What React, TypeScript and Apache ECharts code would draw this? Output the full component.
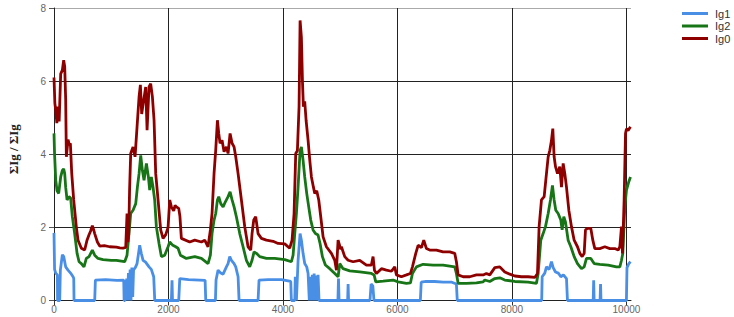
import React, { useEffect, useRef } from "react";
import * as echarts from "echarts";

const seriesNames = ["Ig1", "Ig2", "Ig0"];
const xTicks = [0, 2000, 4000, 6000, 8000, 10000];
const yTicks = [0, 2, 4, 6, 8];

const ig0: [number, number][] = [
  [0, 6.1], [15, 5.4], [30, 5.2], [50, 4.85], [70, 5.3], [90, 4.9], [117, 6.2], [146, 6.3], [169, 6.57], [187, 6.4],
  [204, 5.5], [216, 3.93], [245, 4.4], [270, 4.25], [286, 4.3], [309, 3.5], [344, 2.75], [391, 2.0], [420, 1.65],
  [478, 1.43], [536, 1.38], [577, 1.65], [612, 1.8], [640, 1.9], [670, 2.05], [690, 1.95], [711, 1.83], [758, 1.6],
  [799, 1.49], [880, 1.5], [973, 1.47], [1090, 1.46], [1150, 1.44], [1206, 1.43], [1253, 1.45], [1276, 2.38],
  [1290, 1.6], [1305, 1.8], [1320, 3.0], [1340, 4.02], [1381, 4.2], [1416, 3.93], [1451, 4.75], [1486, 5.57],
  [1509, 5.9], [1532, 5.1], [1567, 5.48], [1602, 5.84], [1626, 4.66], [1660, 5.84], [1689, 5.93], [1719, 5.57],
  [1748, 4.93], [1777, 3.47], [1818, 2.75], [1864, 1.93], [1905, 1.7], [1952, 1.8], [1993, 2.0], [2022, 2.75],
  [2051, 2.56], [2091, 2.45], [2115, 2.6], [2138, 2.56], [2179, 2.52], [2200, 2.3], [2225, 1.7], [2371, 1.6],
  [2459, 1.65], [2575, 1.6], [2633, 1.65], [2691, 1.47], [2732, 1.93], [2761, 2.38], [2796, 3.47], [2825, 4.11],
  [2855, 4.93], [2878, 4.57], [2901, 4.3], [2936, 4.38], [2971, 4.07], [3012, 4.2], [3041, 4.02], [3076, 4.57],
  [3111, 4.3], [3146, 4.2], [3175, 3.93], [3216, 3.47], [3274, 2.75], [3332, 2.02], [3390, 1.47], [3437, 1.38],
  [3460, 1.83], [3489, 2.2], [3524, 2.29], [3565, 1.83], [3623, 1.7], [3711, 1.65], [3827, 1.62], [3915, 1.56],
  [4031, 1.55], [4118, 1.43], [4159, 1.65], [4194, 2.38], [4223, 4.02], [4252, 4.1], [4281, 5.3], [4299, 7.66],
  [4322, 7.2], [4340, 6.02], [4357, 5.3], [4380, 5.45], [4404, 4.93], [4439, 4.38], [4468, 3.84], [4497, 3.38],
  [4532, 3.1], [4555, 2.93], [4590, 3.0], [4625, 2.75], [4660, 2.29], [4701, 1.74], [4759, 1.47], [4846, 1.29],
  [4905, 1.1], [4934, 0.83], [4963, 1.65], [5009, 1.4], [5021, 1.47], [5079, 1.2], [5138, 1.1], [5225, 1.06],
  [5341, 1.1], [5458, 0.97], [5545, 0.97], [5574, 1.2], [5598, 0.83], [5633, 0.74], [5720, 0.87], [5807, 0.83],
  [5895, 0.8], [5953, 0.92], [5982, 0.7], [6069, 0.65], [6157, 0.7], [6227, 0.74], [6262, 0.92], [6320, 1.29],
  [6361, 1.51], [6419, 1.45], [6460, 1.65], [6506, 1.42], [6564, 1.38], [6681, 1.38], [6797, 1.33], [6914, 1.33],
  [7001, 1.29], [7030, 1.06], [7060, 0.7], [7147, 0.65], [7263, 0.65], [7380, 0.7], [7496, 0.7], [7554, 0.74],
  [7613, 0.7], [7701, 0.9], [7788, 0.92], [7875, 0.78], [7963, 0.72], [8050, 0.67], [8167, 0.65], [8283, 0.65],
  [8400, 0.63], [8446, 0.74], [8475, 2.02], [8516, 2.75], [8563, 2.84], [8603, 3.47], [8633, 3.93], [8662, 4.11],
  [8691, 4.38], [8714, 4.7], [8737, 3.93], [8761, 3.66], [8796, 3.47], [8836, 3.66], [8866, 3.1], [8895, 3.75],
  [8924, 3.47], [8953, 3.1], [8994, 2.47], [9040, 2.02], [9087, 1.65], [9145, 1.47], [9186, 1.29], [9227, 1.2],
  [9262, 1.29], [9285, 1.93], [9320, 1.97], [9378, 1.97], [9413, 1.65], [9448, 1.42], [9535, 1.42], [9623, 1.47],
  [9710, 1.42], [9797, 1.42], [9856, 1.38], [9885, 1.47], [9914, 2.02], [9931, 1.29], [9960, 2.75], [9984, 4.57],
  [10001, 4.7], [10030, 4.65], [10071, 4.75],
];

const ig2: [number, number][] = [
  [0, 4.57], [10, 4.0], [30, 3.3], [53, 3.0], [82, 2.93], [117, 3.38], [146, 3.56], [169, 3.6], [187, 3.47],
  [204, 3.1], [228, 2.75], [262, 2.84], [291, 2.8], [320, 2.3], [361, 1.83], [403, 1.29], [438, 1.06], [478, 1.01],
  [524, 0.92], [565, 1.15], [612, 1.2], [670, 1.38], [711, 1.24], [769, 1.15], [857, 1.12], [1000, 1.1], [1090, 1.1],
  [1235, 1.06], [1276, 1.24], [1305, 1.74], [1340, 2.38], [1381, 2.47], [1428, 2.65], [1457, 3.1], [1486, 3.47],
  [1515, 3.97], [1544, 3.56], [1573, 3.29], [1614, 3.75], [1649, 3.38], [1672, 3.02], [1701, 3.38], [1730, 3.1],
  [1759, 2.75], [1788, 2.02], [1835, 1.56], [1876, 1.2], [1934, 1.24], [1993, 1.47], [2022, 1.6], [2068, 1.52],
  [2126, 1.47], [2167, 1.43], [2208, 1.24], [2312, 1.15], [2459, 1.2], [2575, 1.15], [2691, 1.01], [2732, 1.24],
  [2761, 1.83], [2796, 2.2], [2825, 2.38], [2855, 2.75], [2878, 2.84], [2913, 2.65], [2954, 2.56], [2994, 2.7],
  [3041, 2.84], [3076, 2.97], [3111, 2.75], [3146, 2.56], [3186, 2.29], [3245, 1.83], [3303, 1.47], [3361, 1.1],
  [3419, 0.92], [3460, 1.1], [3495, 1.33], [3536, 1.29], [3594, 1.2], [3711, 1.15], [3856, 1.15], [4031, 1.12],
  [4147, 1.06], [4177, 1.24], [4206, 1.83], [4235, 2.38], [4264, 3.1], [4299, 4.11], [4322, 4.2], [4351, 3.84],
  [4380, 3.38], [4415, 2.93], [4450, 2.56], [4485, 2.2], [4526, 1.93], [4567, 1.83], [4613, 1.79], [4648, 1.56],
  [4689, 1.2], [4741, 0.97], [4817, 0.87], [4905, 0.74], [4963, 0.65], [4992, 1.01], [5050, 0.87], [5166, 0.81],
  [5341, 0.78], [5545, 0.74], [5592, 0.7], [5621, 0.51], [5749, 0.53], [5924, 0.56], [6011, 0.51], [6157, 0.47],
  [6227, 0.48], [6262, 0.74], [6331, 0.92], [6448, 0.99], [6623, 0.97], [6797, 0.97], [7001, 0.92], [7030, 0.74],
  [7060, 0.47], [7205, 0.47], [7380, 0.48], [7496, 0.51], [7526, 0.56], [7613, 0.52], [7701, 0.6], [7788, 0.62],
  [7875, 0.56], [8050, 0.52], [8283, 0.5], [8429, 0.47], [8458, 0.74], [8504, 1.65], [8545, 1.83], [8586, 2.02],
  [8633, 2.38], [8673, 2.75], [8708, 3.15], [8737, 2.75], [8766, 2.47], [8807, 2.38], [8854, 2.2], [8877, 1.93],
  [8906, 2.29], [8935, 2.15], [8982, 1.65], [9029, 1.47], [9087, 1.2], [9145, 1.01], [9215, 0.87], [9262, 0.92],
  [9302, 1.15], [9378, 1.15], [9436, 1.01], [9535, 0.99], [9681, 0.97], [9826, 0.92], [9885, 0.92], [9914, 1.1],
  [9937, 1.29], [9972, 2.56], [10001, 3.02], [10042, 3.25], [10071, 3.38],
];

const ig1: [number, number][] = [
  [0, 1.85], [10, 0.85], [30, 0.75], [59, 0.7], [62, 0], [100, 0], [111, 0.83], [146, 1.25], [170, 1.2], [204, 0.92],
  [245, 0.83], [290, 0.75], [333, 0.65], [345, 0.6], [350, 0], [711, 0], [723, 0.56], [900, 0.57], [1100, 0.55],
  [1218, 0.56], [1225, 0], [1240, 0], [1245, 0.56], [1255, 0], [1270, 0.6], [1285, 0], [1300, 0.75], [1315, 0],
  [1330, 0.85], [1345, 0], [1360, 0.9], [1375, 0.1], [1390, 0.84], [1420, 0.9], [1451, 1.01], [1497, 1.51],
  [1525, 1.29], [1556, 1.1], [1600, 1.05], [1660, 0.92], [1700, 0.85], [1742, 0.65], [1760, 0], [2051, 0],
  [2062, 0.55], [2070, 0], [2179, 0], [2197, 0.6], [2350, 0.57], [2546, 0.56], [2640, 0.55], [2651, 0], [2820, 0],
  [2831, 0.56], [2866, 0.83], [2913, 0.75], [2954, 0.72], [3012, 0.92], [3041, 1.01], [3070, 1.2], [3099, 1.1],
  [3146, 1.01], [3175, 0.92], [3216, 0.65], [3233, 0], [3565, 0], [3582, 0.56], [3740, 0.57], [3973, 0.57],
  [4136, 0.52], [4147, 0], [4206, 0], [4215, 0.65], [4235, 0], [4264, 1.1], [4299, 1.83], [4322, 1.65], [4351, 1.29],
  [4380, 1.01], [4415, 0.92], [4439, 0.74], [4460, 0], [4480, 0.65], [4497, 0], [4513, 0.7], [4526, 0], [4545, 0.74],
  [4560, 0], [4580, 0.68], [4600, 0], [4613, 0.7], [4630, 0], [4960, 0], [4970, 0.6], [4980, 0], [5130, 0],
  [5138, 0.45], [5146, 0], [5520, 0], [5540, 0.45], [5570, 0.4], [5590, 0], [6400, 0], [6415, 0.5], [6500, 0.52],
  [6650, 0.52], [6800, 0.5], [6950, 0.5], [7030, 0.45], [7045, 0], [8520, 0], [8528, 0.65], [8574, 0.75],
  [8603, 0.92], [8650, 0.85], [8691, 1.06], [8720, 0.9], [8761, 0.78], [8810, 0.75], [8854, 0.65], [8900, 0.7],
  [8953, 0.6], [8970, 0], [9420, 0], [9428, 0.55], [9436, 0], [9540, 0], [9548, 0.45], [9556, 0], [10000, 0],
  [10010, 0.9], [10040, 1.0], [10071, 1.06],
];

const colors = ["#4a8fe6", "#177517", "#8e0000"];

export default function App() {
  const ref = useRef<HTMLDivElement>(null);
  useEffect(() => {
    document.body.style.margin = "0";
    if (!ref.current) return;
    const chart = echarts.init(ref.current, undefined, { renderer: "svg" });
    const dataSets = [ig1, ig2, ig0];
    chart.setOption({
      animation: false,
      textStyle: { fontFamily: "Liberation Sans, Arial, sans-serif" },
      grid: { left: 54, right: 103, top: 8, bottom: 16.5, containLabel: false, outerBoundsMode: "none" },
      legend: {
        orient: "vertical",
        left: 677,
        top: 3,
        itemWidth: 26,
        itemHeight: 3,
        itemGap: 1.5,
        icon: "rect",
        data: seriesNames,
        textStyle: { fontSize: 11, color: "#333", padding: [0, 0, 0, 2] },
      },
      xAxis: {
        type: "value",
        min: xTicks[0],
        max: 10080,
        interval: xTicks[1] - xTicks[0],
        axisLine: { show: true, lineStyle: { color: "#222", width: 1 } },
        axisTick: { show: true, length: 5, lineStyle: { color: "#333" } },
        axisLabel: { color: "#666", fontSize: 10, margin: 4, showMaxLabel: false, formatter: (v: number) => String(v) },
        splitLine: { show: true, showMinLine: false, showMaxLine: false, lineStyle: { color: "#222", width: 1 } },
      },
      yAxis: {
        type: "value",
        min: yTicks[0],
        max: yTicks[yTicks.length - 1],
        interval: yTicks[1] - yTicks[0],
        name: "ΣIg / ΣIg",
        nameLocation: "middle",
        nameGap: 34,
        nameTextStyle: {
          fontFamily: "Liberation Serif, Times New Roman, serif",
          fontWeight: "bold",
          fontSize: 13,
          color: "#222",
          padding: [0, 0, 0, 10],
        },
        axisLine: { show: true, lineStyle: { color: "#222", width: 1 } },
        axisTick: { show: true, length: 5, lineStyle: { color: "#555" } },
        axisLabel: { color: "#666", fontSize: 10, margin: 8 },
        splitLine: { show: true, lineStyle: { color: ["#222", "#222", "#222", "#222", "#aaa"], width: 1 } },
      },
      series: seriesNames.map((name, i) => ({
        name,
        type: "line",
        data: dataSets[i],
        symbol: "none",
        clip: true,
        z: 3 + i,
        lineStyle: { color: colors[i], width: 2.8 },
        itemStyle: { color: colors[i] },
      })),
    });
    return () => chart.dispose();
  }, []);
  return <div ref={ref} style={{ width: 734, height: 317 }} />;
}
